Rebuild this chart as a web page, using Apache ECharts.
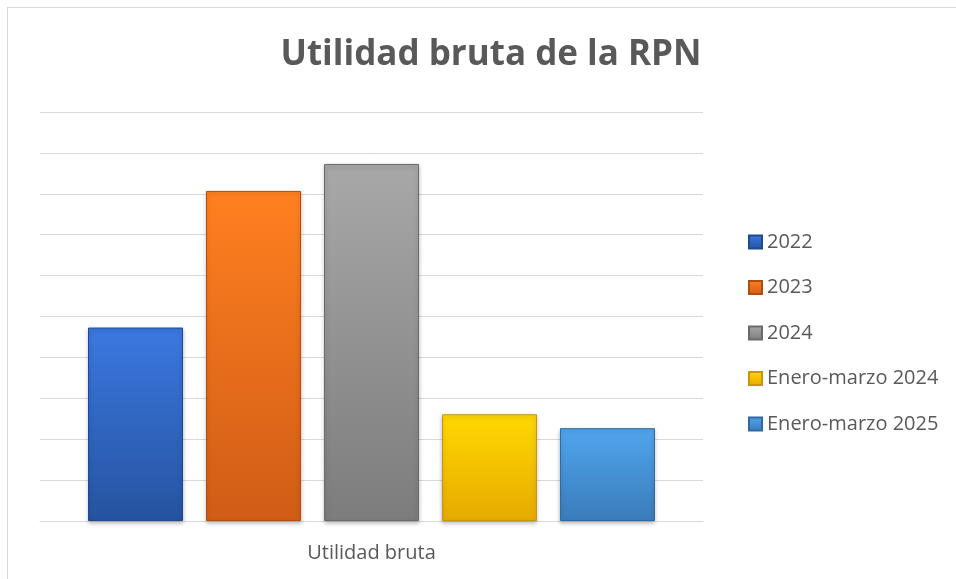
<!DOCTYPE html>
<html><head><meta charset="utf-8">
<script src="https://cdn.jsdelivr.net/npm/echarts@6/dist/echarts.min.js"></script>
<style>
html,body{margin:0;padding:0;background:#fff;width:956px;height:579px;overflow:hidden;}
#frame{position:absolute;left:7px;top:7px;width:1000px;height:620px;border:1px solid #d9d9d9;box-sizing:border-box;}
#c{position:absolute;left:0;top:0;width:956px;height:579px;}
</style></head>
<body>
<div id="frame"></div>
<div id="c"></div>
<script>
const categories = ['Utilidad bruta'];
const seriesNames = ['2022', '2023', '2024', 'Enero-marzo 2024', 'Enero-marzo 2025'];
const values = [4.73, 8.07, 8.73, 2.61, 2.27];
const topColors = ['#3b78e0', '#ff8020', '#a8a8a8', '#ffd800', '#50a5ee'];
const bottomColors = ['#2553a0', '#d05c16', '#7c7c7c', '#e6ab00', '#3a7cba'];
const borderColors = ['#1f4a8f', '#b04e12', '#6a6a6a', '#c9960a', '#2f6aa0'];

const chart = echarts.init(document.getElementById('c'), null, {renderer: 'canvas'});
const series = seriesNames.map((n, i) => ({
  name: n,
  type: 'bar',
  barWidth: 95,
  barGap: '24.2%',
  data: [values[i]],
  itemStyle: {
    color: new echarts.graphic.LinearGradient(0, 0, 0, 1, [
      {offset: 0, color: topColors[i]},
      {offset: 1, color: bottomColors[i]}
    ]),
    borderColor: borderColors[i],
    borderWidth: 1,
    shadowColor: 'rgba(0,0,0,0.25)',
    shadowBlur: 4,
    shadowOffsetY: 2
  }
}));

chart.setOption({
  animation: false,
  title: {
    text: 'Utilidad bruta de la RPN',
    left: 486, top: 33, textAlign: 'center',
    textStyle: {fontFamily: 'Open Sans', fontWeight: 'bold', fontSize: 35, color: '#595959'}
  },
  legend: {
    orient: 'vertical',
    left: 748, top: 232, padding: 0,
    itemWidth: 13, itemHeight: 13, itemGap: 25.5, itemTextGap: 4,
    icon: 'rect',
    data: seriesNames,
    textStyle: {fontFamily: 'Open Sans', fontSize: 20, color: '#595959'}
  },
  grid: {left: 40, right: 253, top: 112, bottom: 58, containLabel: false},
  xAxis: {
    type: 'category',
    data: categories,
    axisLine: {lineStyle: {color: '#d9d9d9', width: 1}},
    axisTick: {show: false},
    axisLabel: {fontFamily: 'Open Sans', fontSize: 20, color: '#595959', margin: 22}
  },
  yAxis: {
    type: 'value',
    min: 0, max: 10, interval: 1,
    axisLabel: {show: false},
    axisLine: {show: false},
    axisTick: {show: false},
    splitLine: {lineStyle: {color: '#d9d9d9', width: 1}}
  },
  series: series
});
</script>
</body></html>
